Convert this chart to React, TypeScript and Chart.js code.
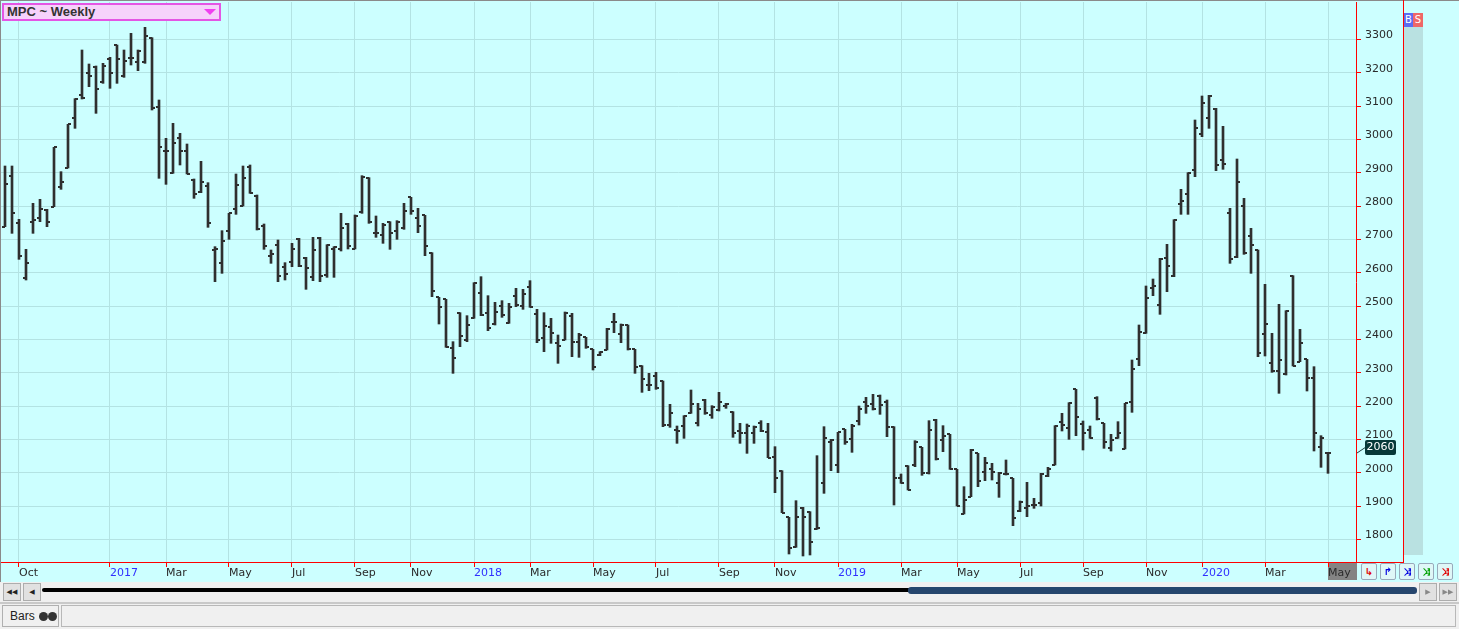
import React, { useEffect, useRef } from "react";
import { Chart, registerables } from "chart.js";

Chart.register(...registerables);
Chart.defaults.font.family = "DejaVu Sans";
Chart.defaults.font.size = 11;

// weekly bars, first bar dated Thu 22 Sep 2016
const START_DATE = Date.UTC(2016, 8, 22);
const WEEK = 7 * 24 * 3600 * 1000;

const opens = [
  2738, 2891, 2750, 2583, 2751, 2763, 2788, 2798, 2858, 2914,
  3063, 3133, 3200, 3218, 3171, 3240, 3283, 3190, 3245, 3231,
  3231, 3303, 3096, 2965, 2900, 3003, 2966, 2878, 2841, 2861,
  2668, 2630, 2726, 2790, 2800, 2918, 2831, 2740, 2650, 2683,
  2616, 2633, 2701, 2643, 2588, 2704, 2593, 2670, 2671, 2746,
  2671, 2781, 2885, 2720, 2712, 2751, 2726, 2733, 2826, 2765,
  2772, 2660, 2526, 2520, 2375, 2480, 2398, 2465, 2540, 2480,
  2446, 2500, 2450, 2531, 2500, 2558, 2476, 2405, 2436, 2390,
  2398, 2470, 2393, 2406, 2370, 2353, 2368, 2452, 2416, 2443,
  2370, 2321, 2263, 2291, 2275, 2143, 2128, 2140, 2180, 2150,
  2218, 2173, 2188, 2201, 2181, 2126, 2118, 2120, 2150, 2123,
  2048, 2006, 1866, 1776, 1895, 1883, 1830, 1970, 2093, 2023,
  2130, 2100, 2156, 2211, 2206, 2231, 2213, 2138, 1983, 2021,
  2023, 2076, 2000, 2158, 2098, 2115, 2010, 1876, 1928, 2058,
  2003, 2011, 1970, 1995, 1983, 1885, 1893, 1903, 1908, 1990,
  2023, 2153, 2135, 2250, 2145, 2128, 2223, 2148, 2075, 2103,
  2071, 2213, 2341, 2420, 2553, 2503, 2645, 2590, 2805, 2836,
  2908, 3016, 3063, 3092, 2938, 2780, 2648, 2801, 2711, 2668,
  2415, 2328, 2306, 2297, 2591, 2333, 2340, 2285, 2076, 2060,
];

const highs = [
  2920, 2920, 2760, 2670, 2808, 2820, 2790, 2976, 2903, 3045,
  3122, 3268, 3226, 3220, 3228, 3246, 3283, 3268, 3318, 3268,
  3336, 3305, 3118, 3003, 3048, 3018, 2986, 2881, 2934, 2870,
  2678, 2726, 2778, 2896, 2920, 2923, 2833, 2746, 2668, 2698,
  2630, 2688, 2703, 2646, 2706, 2706, 2684, 2678, 2778, 2748,
  2773, 2891, 2885, 2770, 2748, 2753, 2756, 2808, 2826, 2793,
  2772, 2660, 2526, 2520, 2393, 2480, 2471, 2570, 2588, 2531,
  2511, 2516, 2508, 2553, 2550, 2576, 2490, 2480, 2463, 2413,
  2482, 2478, 2418, 2406, 2370, 2363, 2433, 2478, 2446, 2443,
  2370, 2321, 2298, 2301, 2275, 2205, 2140, 2171, 2248, 2208,
  2220, 2201, 2241, 2208, 2183, 2148, 2146, 2140, 2156, 2148,
  2078, 2006, 1866, 1916, 1896, 1883, 2051, 2138, 2100, 2121,
  2130, 2145, 2200, 2226, 2235, 2233, 2218, 2138, 1996, 2021,
  2096, 2076, 2156, 2160, 2141, 2115, 2010, 1958, 2070, 2058,
  2046, 2028, 2001, 2038, 1983, 1915, 1971, 1923, 1998, 2016,
  2141, 2178, 2210, 2250, 2155, 2140, 2228, 2148, 2115, 2153,
  2208, 2338, 2443, 2560, 2581, 2643, 2685, 2759, 2850, 2900,
  3058, 3130, 3132, 3093, 3039, 2793, 2941, 2823, 2733, 2668,
  2565, 2418, 2505, 2486, 2591, 2430, 2340, 2318, 2111, 2060,
];

const lows = [
  2738, 2718, 2640, 2578, 2718, 2753, 2738, 2798, 2850, 2914,
  3033, 3121, 3158, 3078, 3168, 3153, 3168, 3186, 3223, 3206,
  3228, 3088, 2883, 2865, 2898, 2923, 2896, 2823, 2840, 2736,
  2573, 2598, 2700, 2775, 2800, 2838, 2728, 2670, 2628, 2573,
  2578, 2618, 2618, 2550, 2576, 2573, 2586, 2586, 2665, 2671,
  2671, 2778, 2748, 2706, 2688, 2670, 2700, 2730, 2775, 2720,
  2651, 2528, 2446, 2376, 2298, 2378, 2393, 2463, 2471, 2426,
  2443, 2466, 2448, 2498, 2490, 2496, 2390, 2363, 2388, 2328,
  2398, 2348, 2346, 2373, 2308, 2351, 2368, 2420, 2390, 2368,
  2298, 2241, 2246, 2250, 2138, 2136, 2088, 2103, 2178, 2140,
  2175, 2163, 2185, 2193, 2106, 2088, 2058, 2088, 2123, 2045,
  1940, 1880, 1756, 1776, 1750, 1753, 1830, 1938, 2006, 2000,
  2085, 2061, 2143, 2178, 2188, 2175, 2108, 1903, 1968, 1948,
  2018, 1992, 1996, 2038, 2063, 2010, 1900, 1876, 1928, 1958,
  1976, 1978, 1926, 1993, 1841, 1883, 1868, 1893, 1900, 1988,
  2023, 2125, 2100, 2111, 2068, 2103, 2158, 2073, 2065, 2103,
  2071, 2181, 2321, 2418, 2531, 2475, 2543, 2588, 2775, 2775,
  2888, 3008, 3033, 2906, 2910, 2628, 2645, 2655, 2598, 2348,
  2350, 2301, 2238, 2293, 2320, 2333, 2245, 2065, 2016, 1998,
];

const closes = [
  2865, 2778, 2651, 2630, 2758, 2790, 2753, 2976, 2873, 3045,
  3122, 3123, 3190, 3151, 3220, 3200, 3240, 3235, 3245, 3265,
  3310, 3093, 2978, 2965, 2990, 2966, 2896, 2835, 2873, 2750,
  2670, 2696, 2778, 2863, 2885, 2840, 2731, 2680, 2657, 2590,
  2596, 2670, 2620, 2613, 2668, 2590, 2682, 2678, 2735, 2680,
  2771, 2888, 2751, 2720, 2743, 2718, 2751, 2786, 2786, 2740,
  2680, 2546, 2496, 2378, 2345, 2410, 2443, 2570, 2473, 2435,
  2483, 2473, 2498, 2503, 2536, 2496, 2398, 2440, 2420, 2380,
  2480, 2393, 2413, 2376, 2318, 2361, 2430, 2452, 2443, 2370,
  2318, 2281, 2263, 2255, 2143, 2180, 2126, 2171, 2206, 2190,
  2178, 2198, 2213, 2206, 2118, 2118, 2140, 2138, 2126, 2045,
  1985, 1880, 1775, 1866, 1866, 1793, 1835, 2103, 2098, 2121,
  2093, 2141, 2190, 2201, 2190, 2203, 2138, 1985, 1970, 1948,
  2091, 1998, 2128, 2040, 2111, 2011, 1900, 1918, 2068, 1976,
  2028, 2003, 1998, 1995, 1865, 1911, 1901, 1903, 1996, 2012,
  2141, 2143, 2210, 2168, 2118, 2105, 2160, 2091, 2098, 2118,
  2208, 2310, 2423, 2523, 2561, 2641, 2620, 2759, 2816, 2898,
  3035, 3110, 3130, 2923, 2926, 2641, 2873, 2660, 2683, 2358,
  2447, 2305, 2338, 2486, 2321, 2390, 2285, 2120, 2103, 2060,
];

// months that get a label + grid line (January shows the year)
const tickMonths = [
  "2016-10", "2017-01", "2017-03", "2017-05", "2017-07", "2017-09", "2017-11",
  "2018-01", "2018-03", "2018-05", "2018-07", "2018-09", "2018-11",
  "2019-01", "2019-03", "2019-05", "2019-07", "2019-09", "2019-11",
  "2020-01", "2020-03", "2020-05",
];
const monthNames = ["Jan", "Feb", "Mar", "Apr", "May", "Jun", "Jul", "Aug", "Sep", "Oct", "Nov", "Dec"];
const priceTicks = [1800, 1900, 2000, 2100, 2200, 2300, 2400, 2500, 2600, 2700, 2800, 2900, 3000, 3100, 3200, 3300];

const BAR_COLOR = "#2f2f2f";
const GRID = "#b3e3e3";
const RED = "#ff0000";
const BG = "#ccffff";

const barMonth = opens.map((_, i) => {
  const d = new Date(START_DATE + i * WEEK);
  return `${d.getUTCFullYear()}-${String(d.getUTCMonth() + 1).padStart(2, "0")}`;
});
const tickIndex = tickMonths.map((m) => barMonth.indexOf(m));
const tickLabel = new Map<number, string>();
const yearTicks = new Set<number>();
tickMonths.forEach((m, i) => {
  const [y, mo] = m.split("-");
  if (mo === "01") yearTicks.add(tickIndex[i]);
  tickLabel.set(tickIndex[i], mo === "01" ? y : monthNames[Number(mo) - 1]);
});

function makeTickImage(side: "open" | "close") {
  const c = document.createElement("canvas");
  c.width = 6;
  c.height = 2;
  const g = c.getContext("2d")!;
  g.fillStyle = BAR_COLOR;
  g.fillRect(side === "open" ? 0 : 3, 0, 3, 2);
  return c;
}

// no extra room for overhanging labels: the plot fills the frame
const noPadding = (s: any) => {
  s.paddingTop = 0;
  s.paddingBottom = 0;
  s.paddingLeft = 0;
  s.paddingRight = 0;
};

const markers = {
  id: "markers",
  beforeDraw(chart: any) {
    const { ctx, chartArea, scales } = chart;
    const x0 = Math.round(scales.x.getPixelForValue(tickIndex[tickIndex.length - 1]));
    ctx.save();
    ctx.fillStyle = "#848484";
    ctx.fillRect(x0, chartArea.bottom + 1, chartArea.right + 1 - x0, 17);
    ctx.restore();
  },
  afterDraw(chart: any) {
    const { ctx, chartArea, scales } = chart;
    const last = closes[closes.length - 1];
    const y = Math.round(scales.y.getPixelForValue(last));
    const x = chartArea.right;
    ctx.save();
    ctx.strokeStyle = "#1d3f3f";
    ctx.lineWidth = 1;
    ctx.beginPath();
    ctx.moveTo(x + 1, y);
    ctx.lineTo(x + 10, y - 6);
    ctx.stroke();
    ctx.fillStyle = "#063838";
    ctx.beginPath();
    ctx.roundRect(x + 9, y - 13, 31, 15, 2);
    ctx.fill();
    ctx.fillStyle = "#ffffff";
    ctx.font = "11px 'DejaVu Sans'";
    ctx.textAlign = "center";
    ctx.textBaseline = "middle";
    ctx.fillText(String(last), x + 24.5, y - 5.5);
    ctx.restore();
  },
};

const btn: React.CSSProperties = {
  position: "absolute",
  boxSizing: "border-box",
  background: "#e1e1e1",
  border: "1px solid #adadad",
  display: "flex",
  alignItems: "center",
  justifyContent: "center",
  fontSize: 7,
  color: "#222",
};

const toolBtn = (left: number, color: string, glyph: string) => (
  <div
    key={left}
    style={{
      position: "absolute",
      left,
      top: 563,
      width: 16,
      height: 17,
      boxSizing: "border-box",
      border: "1px solid #9ab",
      borderRadius: 2,
      background: "#dff7f7",
      color,
      fontSize: 10,
      display: "flex",
      alignItems: "center",
      justifyContent: "center",
      fontWeight: "bold",
    }}
  >
    {glyph}
  </div>
);

export default function App() {
  const canvasRef = useRef<HTMLCanvasElement>(null!);

  useEffect(() => {
    const canvas = canvasRef.current;
    Chart.getChart(canvas)?.destroy();
    const xMin = -4 / 7;
    const chart = new Chart(canvas, {
      type: "bar",
      data: {
        datasets: [
          {
            type: "bar",
            data: lows.map((l, i) => ({ x: i, y: [l, highs[i]] })) as any,
            backgroundColor: BAR_COLOR,
            borderWidth: 0,
            barThickness: 2,
            order: 2,
          },
          {
            type: "line",
            data: opens.map((o, i) => ({ x: i, y: o })),
            showLine: false,
            pointStyle: makeTickImage("open") as any,
            pointRadius: 3,
            order: 1,
          },
          {
            type: "line",
            data: closes.map((c, i) => ({ x: i, y: c })),
            showLine: false,
            pointStyle: makeTickImage("close") as any,
            pointRadius: 3,
            order: 1,
          },
        ],
      },
      options: {
        animation: false,
        responsive: false,
        events: [],
        layout: { autoPadding: false, padding: { left: 1, top: 2, right: 0, bottom: 0 } },
        plugins: { legend: { display: false }, tooltip: { enabled: false } },
        scales: {
          x: {
            type: "linear",
            bounds: "data",
            min: xMin,
            max: xMin + 1355 / 7,
            offset: false,
            afterBuildTicks: (s: any) => {
              s.ticks = tickIndex.map((v) => ({ value: v }));
            },
            afterFit: (s: any) => {
              s.height = 20;
              noPadding(s);
            },
            grid: { color: GRID, tickColor: RED, tickLength: 5, offset: false },
            border: { color: RED },
            ticks: {
              autoSkip: false,
              maxRotation: 0,
              align: "start",
              padding: 0,
              color: (c: any) => (yearTicks.has(c.tick?.value) ? "#3030ff" : "#2a2a2a"),
              callback: (v: any) => tickLabel.get(Number(v)) ?? "",
            },
          } as any,
          y: {
            position: "right",
            min: 1732,
            max: 3412,
            afterBuildTicks: (s: any) => {
              s.ticks = priceTicks.map((v) => ({ value: v }));
            },
            afterFit: (s: any) => {
              s.width = 47;
              noPadding(s);
            },
            grid: { color: GRID, tickColor: RED, tickLength: 5 },
            border: { color: RED },
            ticks: {
              padding: 4,
              labelOffset: -4,
              color: "#2a2a2a",
              callback: (v: any) => String(v),
            },
          } as any,
        },
      },
      plugins: [markers],
    });
    return () => chart.destroy();
  }, []);

  return (
    <div
      style={{
        position: "fixed",
        left: 0,
        top: 0,
        width: 1459,
        height: 629,
        background: BG,
        overflow: "hidden",
        fontFamily: "'DejaVu Sans'",
      }}
    >
      <canvas ref={canvasRef} width={1403} height={582} style={{ position: "absolute", left: 0, top: 0 }} />
      {/* frame lines */}
      <div style={{ position: "absolute", left: 0, top: 0, width: 1459, height: 1, background: "#8a8a8a" }} />
      <div style={{ position: "absolute", left: 0, top: 0, width: 1, height: 582, background: "#8a8a8a" }} />
      <div style={{ position: "absolute", left: 1356, top: 562, width: 48, height: 1, background: RED }} />
      <div style={{ position: "absolute", left: 1403, top: 0, width: 1, height: 563, background: RED }} />
      {/* B / S and side strip */}
      <div style={{ position: "absolute", left: 1404, top: 13, width: 9, height: 14, background: "#5c6cf2", color: "#fff", fontSize: 10, textAlign: "center", lineHeight: "14px" }}>B</div>
      <div style={{ position: "absolute", left: 1413, top: 13, width: 10, height: 14, background: "#ef6767", color: "#fff", fontSize: 10, textAlign: "center", lineHeight: "14px" }}>S</div>
      <div style={{ position: "absolute", left: 1404, top: 27, width: 19, height: 528, background: "#b9e1e1" }} />
      {/* title box */}
      <div
        style={{
          position: "absolute",
          left: 2,
          top: 3,
          width: 219,
          height: 18,
          boxSizing: "border-box",
          border: "2px solid #e455e4",
          background: "#f6d2fb",
          fontFamily: "'Liberation Sans'",
          fontWeight: "bold",
          fontSize: 13,
          color: "#333",
          lineHeight: "14px",
          paddingLeft: 3,
        }}
      >
        MPC ~ Weekly
        <div
          style={{
            position: "absolute",
            right: 3,
            top: 4,
            width: 0,
            height: 0,
            borderLeft: "6px solid transparent",
            borderRight: "6px solid transparent",
            borderTop: "6px solid #f040f0",
          }}
        />
      </div>
      {/* right toolbar */}
      {toolBtn(1361, "#e00000", "↳")}
      {toolBtn(1380, "#0000e0", "↱")}
      {toolBtn(1399, "#0000e0", "⤨")}
      {toolBtn(1418, "#00a000", "⤨")}
      {toolBtn(1437, "#e00000", "⤨")}
      {/* scroll row */}
      <div style={{ position: "absolute", left: 0, top: 582, width: 1459, height: 47, background: "#f0f0f0" }} />
      <div style={{ ...btn, left: 3, top: 583, width: 18, height: 18 }}>◀◀</div>
      <div style={{ ...btn, left: 23, top: 583, width: 18, height: 18 }}>◀</div>
      <div style={{ position: "absolute", left: 42, top: 588, width: 870, height: 4, borderRadius: 2, background: "#000" }} />
      <div style={{ position: "absolute", left: 908, top: 587, width: 509, height: 7, borderRadius: 3, background: "#26466d" }} />
      <div style={{ ...btn, left: 1419, top: 583, width: 18, height: 18, color: "#888" }}>▶</div>
      <div style={{ ...btn, left: 1439, top: 583, width: 18, height: 18, color: "#888" }}>▶▶</div>
      <div style={{ position: "absolute", left: 0, top: 602, width: 1459, height: 2, background: "#c9c9c9" }} />
      {/* tabs row */}
      <div
        style={{
          position: "absolute",
          left: 2,
          top: 605,
          width: 57,
          height: 22,
          boxSizing: "border-box",
          border: "1px solid #b0b0b0",
          display: "flex",
          alignItems: "center",
          paddingLeft: 7,
          fontFamily: "'Liberation Sans'",
          fontSize: 12,
          color: "#222",
        }}
      >
        Bars
        <span style={{ display: "inline-block", width: 9, height: 9, borderRadius: 5, background: "#333", marginLeft: 4 }} />
        <span style={{ display: "inline-block", width: 9, height: 9, borderRadius: 5, background: "#333", marginLeft: 0 }} />
      </div>
      <div
        style={{
          position: "absolute",
          left: 61,
          top: 605,
          width: 1395,
          height: 22,
          boxSizing: "border-box",
          border: "1px solid #b8b8b8",
        }}
      />
    </div>
  );
}
